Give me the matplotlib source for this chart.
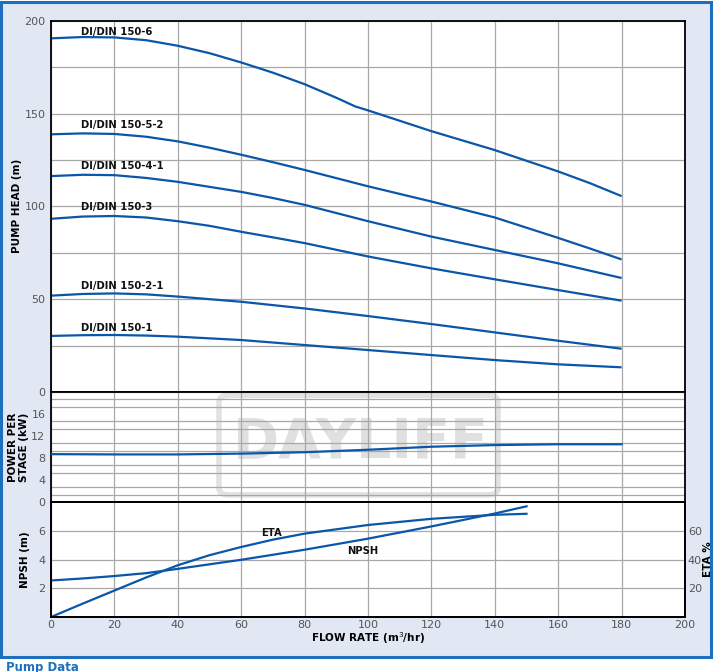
import matplotlib
matplotlib.use("Agg")
import matplotlib.pyplot as plt
from matplotlib.patches import Rectangle, FancyBboxPatch
import numpy as np

# ---------------- data ----------------
flow_6 = [0, 10, 20, 30, 40, 50, 60, 70, 80, 90, 96, 100, 120, 140, 160, 170, 180]
head_6 = [190.5, 191.2, 191.0, 189.5, 186.5, 182.5, 177.5, 172.0, 165.8, 158.5, 153.8, 151.7, 140.5, 130.3, 118.8, 112.5, 105.5]

flow_52 = [0, 10, 20, 30, 40, 50, 60, 70, 80, 90, 100, 110, 120, 140, 160, 170, 180]
head_52 = [138.8, 139.3, 139.0, 137.5, 135.0, 131.6, 127.8, 123.8, 119.6, 115.2, 110.8, 106.7, 102.6, 94.0, 83.0, 77.3, 71.4]

flow_41 = [0, 10, 20, 30, 40, 50, 60, 70, 80, 90, 100, 120, 140, 160, 180]
head_41 = [116.3, 117.0, 116.8, 115.3, 113.2, 110.5, 107.8, 104.5, 100.8, 96.4, 92.0, 83.7, 76.5, 69.3, 61.4]

flow_3 = [0, 10, 20, 30, 40, 50, 60, 70, 80, 90, 100, 120, 140, 160, 180]
head_3 = [93.3, 94.5, 94.8, 94.0, 92.0, 89.5, 86.3, 83.3, 80.2, 76.6, 73.0, 66.6, 60.7, 54.9, 49.2]

flow_21 = [0, 10, 20, 30, 40, 60, 80, 100, 120, 140, 160, 180]
head_21 = [51.9, 52.8, 53.1, 52.6, 51.4, 48.6, 45.0, 40.9, 36.6, 32.1, 27.6, 23.3]

flow_1 = [0, 10, 20, 30, 40, 60, 80, 100, 120, 140, 160, 180]
head_1 = [30.2, 30.6, 30.7, 30.4, 29.8, 28.0, 25.3, 22.6, 19.9, 17.2, 14.9, 13.3]

curve_names = ["DI/DIN 150-6", "DI/DIN 150-5-2", "DI/DIN 150-4-1",
               "DI/DIN 150-3", "DI/DIN 150-2-1", "DI/DIN 150-1"]
label_heads = [194, 144, 122, 99.5, 57, 34.5]

flow_power = [0, 20, 40, 60, 80, 100, 120, 140, 160, 180]
power_kw = [8.7, 8.65, 8.65, 8.8, 9.05, 9.5, 10.05, 10.35, 10.5, 10.5]

flow_npsh = [0, 10, 20, 30, 40, 60, 80, 100, 120, 140, 150]
npsh_m = [2.54, 2.68, 2.85, 3.05, 3.35, 3.98, 4.68, 5.45, 6.3, 7.2, 7.7]

flow_eta = [0, 10, 20, 30, 40, 50, 60, 70, 80, 90, 100, 120, 140, 150]
eta_pct = [0, 9.3, 18.4, 27.5, 36.0, 43.0, 48.7, 53.8, 58.0, 61.0, 64.0, 68.3, 71.1, 71.8]

x_ticks = [0, 20, 40, 60, 80, 100, 120, 140, 160, 180, 200]
head_ticks = [0, 50, 100, 150, 200]
power_ticks = [0, 4, 8, 12, 16]
npsh_ticks = [2, 4, 6]
eta_ticks = [20, 40, 60]

# ---------------- style ----------------
W, H = 714, 672
LINE = "#0a56a8"
GRID = "#a8a8a8"
TICKC = "#555555"
FRAME = "#1f6fbf"
FILL = "#e1e8f4"

fig = plt.figure(figsize=(W / 100, H / 100), dpi=100)
fig.patch.set_facecolor("white")

# background panel with blue frame
fig.patches.append(Rectangle((1.2 / W, 1 - 657 / H), 710 / W, 655.5 / H,
                             transform=fig.transFigure, facecolor=FILL,
                             edgecolor=FRAME, lw=2.2, zorder=-5))
fig.text(6 / W, 1 - 660.5 / H, "Pump Data", color=FRAME, fontsize=8.5,
         fontweight="bold", ha="left", va="top")

L = 51 / W
R = 685 / W
def fy(px):
    return 1 - px / H

ax1 = fig.add_axes([L, fy(392), R - L, fy(20.7) - fy(392)])
ax2 = fig.add_axes([L, fy(502), R - L, fy(392) - fy(502)])
ax3 = fig.add_axes([L, fy(617), R - L, fy(502) - fy(617)])

for ax in (ax1, ax2, ax3):
    ax.set_facecolor("white")
    ax.set_xlim(0, 200)
    ax.set_xticks(x_ticks)
    ax.grid(axis="x", color=GRID, lw=0.9)
    ax.set_axisbelow(True)
    for s in ax.spines.values():
        s.set_color("black")
        s.set_linewidth(1.3)
    ax.tick_params(axis="y", length=0, colors=TICKC, labelsize=8, pad=4)
    ax.tick_params(axis="x", length=0, colors=TICKC, labelsize=8, pad=2)

ax1.tick_params(labelbottom=False)
ax2.tick_params(labelbottom=False)

# ----- top panel: pump head -----
ax1.set_ylim(0, 200)
ax1.set_yticks(head_ticks)
ax1.set_yticks(np.arange(0, 201, 25), minor=True)
ax1.tick_params(which="minor", length=0)
ax1.grid(axis="y", which="both", color=GRID, lw=0.9)

flows = [flow_6, flow_52, flow_41, flow_3, flow_21, flow_1]
heads = [head_6, head_52, head_41, head_3, head_21, head_1]
for f, h in zip(flows, heads):
    ax1.plot(f, h, color=LINE, lw=1.6, solid_capstyle="butt",
             solid_joinstyle="round")
for name, yh in zip(curve_names, label_heads):
    ax1.text(9.5, yh, name, fontsize=7.2, fontweight="bold", color="#111111",
             ha="left", va="center")
ax1.set_ylabel("PUMP HEAD (m)", fontsize=7.5, fontweight="bold", labelpad=2)

# ----- middle panel: power -----
ax2.set_ylim(0, 20)
ax2.set_yticks(power_ticks)
ax2.set_yticks(np.linspace(0, 20, 16), minor=True)
ax2.tick_params(which="minor", length=0)
ax2.grid(axis="y", which="minor", color=GRID, lw=0.9)
ax2.plot(flow_power, power_kw, color=LINE, lw=1.6, zorder=3)
ax2.set_ylabel("POWER PER\nSTAGE (kW)", fontsize=7.5, fontweight="bold",
               labelpad=2, linespacing=1.1)
# watermark (behind grid)
wm = FancyBboxPatch((53, 1.3), 88, 18.1, boxstyle="round,pad=0,rounding_size=3",
                    transform=ax2.transData, facecolor="none",
                    edgecolor="#e2e2e2", lw=4, zorder=0.2, mutation_aspect=0.4)
ax2.add_patch(wm)
ax2.text(97.8, 10.8, "DAYLIFF", fontsize=40, fontweight="bold", color="#e0e0e0",
         ha="center", va="center", zorder=0.3)

# ----- bottom panel: NPSH / ETA -----
ax3.set_ylim(0, 8)
ax3.set_yticks(npsh_ticks)
ax3.grid(axis="y", color=GRID, lw=0.9)
ax3.plot(flow_npsh, npsh_m, color=LINE, lw=1.6)
ax3.set_ylabel("NPSH (m)", fontsize=7.5, fontweight="bold", labelpad=6)
ax3.set_xlabel("FLOW RATE (m$^3$/hr)", fontsize=7.5, fontweight="bold",
               labelpad=0.5, x=0.5)

ax3b = ax3.twinx()
ax3b.set_ylim(0, 80)
ax3b.set_yticks(eta_ticks)
ax3b.tick_params(length=0, colors=TICKC, labelsize=8, pad=2)
for s in ax3b.spines.values():
    s.set_color("black")
    s.set_linewidth(1.3)
ax3b.plot(flow_eta, eta_pct, color=LINE, lw=1.6)
ax3b.set_ylabel("ETA %", fontsize=7.5, fontweight="bold", labelpad=1)

ax3.text(69.7, 5.87, "ETA", fontsize=7.2, fontweight="bold", color="#111111",
         ha="center", va="center")
ax3.text(98.4, 4.6, "NPSH", fontsize=7.2, fontweight="bold", color="#111111",
         ha="center", va="center")

fig.savefig("out.png", dpi=100, facecolor=fig.get_facecolor())
